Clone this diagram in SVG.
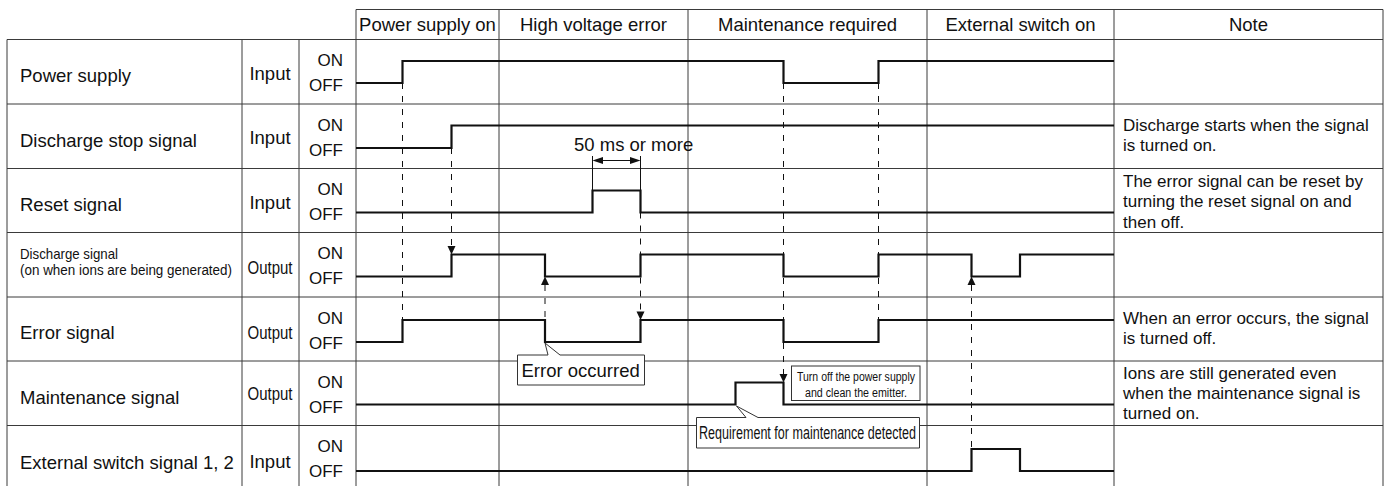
<svg xmlns="http://www.w3.org/2000/svg" width="1392" height="486" viewBox="0 0 1392 486">
<style>
text{font-family:"Liberation Sans",Arial,Helvetica,sans-serif;fill:#111}
.g{stroke:#3a3a3a;stroke-width:1;fill:none}
.s{stroke:#111;stroke-width:2.2;fill:none;stroke-linejoin:miter}
.d{stroke:#111;stroke-width:1;fill:none;stroke-dasharray:6 7}
.h{font-size:18.5px;text-anchor:middle}
.l{font-size:18.5px}
.io{font-size:18.5px;text-anchor:middle}
.oo{font-size:17px;text-anchor:end}
.n{font-size:17px}
.a{fill:#111;stroke:none}
.cb{fill:#fff;stroke:#333;stroke-width:1}
</style>
<rect width="1392" height="486" fill="#fff"/>
<g id="grid">
<path class="g" d="M356,9.5H1383M7,39.5H1383M7,104H1383M7,168.5H1383M7,232.5H1383M7,297H1383M7,361H1383M7,425.5H1383"/>
<path class="g" d="M7,39.5V490M242,39.5V490M299,39.5V490M356,9.5V490M499,9.5V490M688,9.5V490M927,9.5V490M1114,9.5V490M1383,9.5V490"/>
</g>
<g id="header">
<text class="h" x="427.5" y="31">Power supply on</text>
<text class="h" x="593.5" y="31">High voltage error</text>
<text class="h" x="807.5" y="31">Maintenance required</text>
<text class="h" x="1020.5" y="31">External switch on</text>
<text class="h" x="1248.5" y="31">Note</text>
</g>
<g id="row-power">
<text class="l" x="20" y="82">Power supply</text>
<text class="io" x="270" y="80">Input</text>
<text class="oo" x="343" y="66">ON</text><text class="oo" x="343" y="91">OFF</text>
<path class="s" d="M356,83H402.5V61H783.5V83H878.5V61H1114"/>
</g>
<g id="row-dstop">
<text class="l" x="20" y="146.5">Discharge stop signal</text>
<text class="io" x="270" y="143.5">Input</text>
<text class="oo" x="343" y="130.5">ON</text><text class="oo" x="343" y="155.5">OFF</text>
<path class="s" d="M356,148H451.5V125.5H1114"/>
<text class="n" x="1123" y="130.5">Discharge starts when the signal</text>
<text class="n" x="1123" y="150.5">is turned on.</text>
</g>
<g id="row-reset">
<text class="l" x="20" y="210.5">Reset signal</text>
<text class="io" x="270" y="208.5">Input</text>
<text class="oo" x="343" y="194.5">ON</text><text class="oo" x="343" y="219.5">OFF</text>
<path class="s" d="M356,212.5H592.5V190.5H640.5V212.5H1114"/>
<text class="n" x="1123" y="186.5">The error signal can be reset by</text>
<text class="n" x="1123" y="207">turning the reset signal on and</text>
<text class="n" x="1123" y="227.5">then off.</text>
</g>
<g id="row-dsig">
<text x="20" y="259" font-size="15" textLength="98" lengthAdjust="spacingAndGlyphs">Discharge signal</text>
<text x="20" y="274.5" font-size="14" textLength="212" lengthAdjust="spacingAndGlyphs">(on when ions are being generated)</text>
<text class="l" x="247.5" y="273.5" textLength="45" lengthAdjust="spacingAndGlyphs">Output</text>
<text class="oo" x="343" y="259">ON</text><text class="oo" x="343" y="284">OFF</text>
<path class="s" d="M356,276.5H451.5V254.5H545V276.5H640.5V254.5H783.5V276.5H878.5V254.5H971.5V276.5H1020V254.5H1114"/>
</g>
<g id="row-error">
<text class="l" x="20" y="338.5">Error signal</text>
<text class="l" x="247.5" y="339" textLength="45" lengthAdjust="spacingAndGlyphs">Output</text>
<text class="oo" x="343" y="323.5">ON</text><text class="oo" x="343" y="349">OFF</text>
<path class="s" d="M356,342H402.5V320H545V342H640.5V320H783.5V342H878.5V320H1114"/>
<text class="n" x="1123" y="323.5">When an error occurs, the signal</text>
<text class="n" x="1123" y="343.5">is turned off.</text>
</g>
<g id="row-maint">
<text class="l" x="20" y="403.5">Maintenance signal</text>
<text class="l" x="247.5" y="400" textLength="45" lengthAdjust="spacingAndGlyphs">Output</text>
<text class="oo" x="343" y="388">ON</text><text class="oo" x="343" y="413">OFF</text>
<path class="s" d="M356,404.5H735.5V382.5H783.5V404.5H1114"/>
<text class="n" x="1123" y="378.5">Ions are still generated even</text>
<text class="n" x="1123" y="398.5">when the maintenance signal is</text>
<text class="n" x="1123" y="418.5">turned on.</text>
</g>
<g id="row-ext">
<text class="l" x="20" y="468.5">External switch signal 1, 2</text>
<text class="io" x="270" y="467.5">Input</text>
<text class="oo" x="343" y="452">ON</text><text class="oo" x="343" y="477">OFF</text>
<path class="s" d="M356,471H971.5V449H1020V471H1114"/>
</g>
<g id="connectors">
<path class="d" d="M402.5,83V320M451.5,148V246M545,285V320M640.5,212.5V312M783.5,83V374M878.5,83V320M971.5,285V449"/>
<path class="a" d="M447.5,246H455.5L451.5,254.5Z"/>
<path class="a" d="M541,285H549L545,276.5Z"/>
<path class="a" d="M636.5,311.5H644.5L640.5,320Z"/>
<path class="a" d="M779.5,374H787.5L783.5,382.5Z"/>
<path class="a" d="M967.5,285H975.5L971.5,276.5Z"/>
<path stroke="#111" stroke-width="1" d="M592.5,156V190.5M640.5,156V190.5M601,160.5H632"/>
<path class="a" d="M592.5,160.5L603,157V164Z"/>
<path class="a" d="M640.5,160.5L630,157V164Z"/>
</g>
<g id="dim-label">
<text class="l" x="574" y="150.5">50 ms or more</text>
</g>
<g id="callout-error">
<path class="cb" d="M517.5,355H548L545,343L560,355H644.5V385H517.5Z"/>
<text x="521.5" y="377" font-size="18.5">Error occurred</text>
</g>
<g id="callout-turnoff">
<rect class="cb" x="791.5" y="366" width="128.5" height="34.5"/>
<text x="856" y="381" font-size="12.5" text-anchor="middle" textLength="118" lengthAdjust="spacingAndGlyphs">Turn off the power supply</text>
<text x="856" y="396.5" font-size="12.5" text-anchor="middle" textLength="102" lengthAdjust="spacingAndGlyphs">and clean the emitter.</text>
</g>
<g id="callout-maint">
<path class="cb" d="M696.5,417.5H746L736.5,406L758,417.5H919.5V448H696.5Z"/>
<text x="699" y="438.5" font-size="17.5" textLength="217" lengthAdjust="spacingAndGlyphs">Requirement for maintenance detected</text>
</g>
</svg>
